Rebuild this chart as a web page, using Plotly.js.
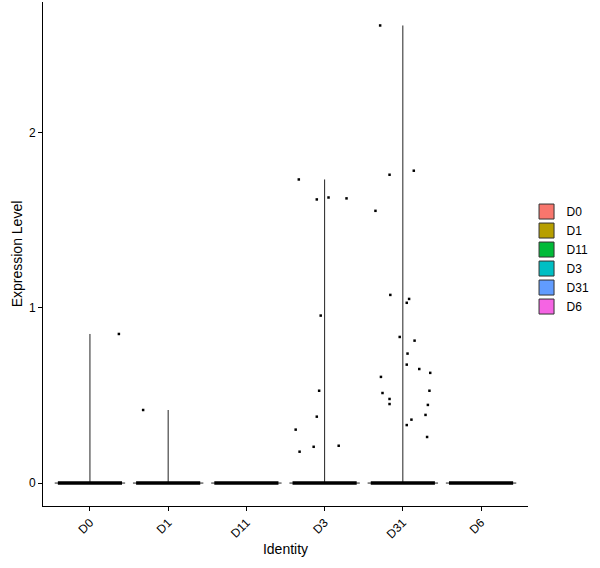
<!DOCTYPE html>
<html>
<head>
<meta charset="utf-8">
<script src="https://cdn.plot.ly/plotly-3.0.1.min.js"></script>
<style>
  html, body { margin: 0; padding: 0; background: #fff; }
  #chart { width: 600px; height: 568px; }
</style>
</head>
<body>
<div id="chart"></div>
<script>
// ===== Data =====
const groups = ['D0', 'D1', 'D11', 'D3', 'D31', 'D6'];
const groupColors = ['#F8766D', '#B79F00', '#00BA38', '#00BFC4', '#619CFF', '#F564E3'];

// non-zero cells per group: expression value and jitter offset
const valsD0 = [0.851];
const jitD0 = [0.37];
const valsD1 = [0.417];
const jitD1 = [-0.32];
const valsD11 = [];
const jitD11 = [];
const valsD3 = [1.733, 1.619, 1.630, 1.625, 0.956, 0.527, 0.379, 0.305, 0.207, 0.213, 0.179];
const jitD3 = [-0.33, -0.10, 0.05, 0.28, -0.05, -0.07, -0.10, -0.37, -0.14, 0.18, -0.32];
const valsD31 = [2.612, 1.760, 1.783, 1.554, 1.074, 1.051, 1.029, 0.834, 0.813, 0.739, 0.676, 0.651,
  0.629, 0.606, 0.514, 0.527, 0.480, 0.451, 0.446, 0.389, 0.362, 0.331, 0.263];
const jitD31 = [-0.29, -0.17, 0.14, -0.35, -0.16, 0.08, 0.05, -0.04, 0.15, 0.06, 0.05, 0.21,
  0.35, -0.28, -0.26, 0.34, -0.17, -0.17, 0.32, 0.29, 0.11, 0.05, 0.31];
const valsD6 = [];
const jitD6 = [];

const groupVals = [valsD0, valsD1, valsD11, valsD3, valsD31, valsD6];
const groupJit = [jitD0, jitD1, jitD11, jitD3, jitD31, jitD6];

// ===== Plot =====
const FONT = 'Liberation Sans, Arial, sans-serif';
const VIOLIN_HALF = 0.45;
const JITTER_HALF = 0.41;

const traces = [];

// violin outlines: collapsed to the zero line plus a thin tail up to the max
const vx = [], vy = [];
groups.forEach((g, i) => {
  const top = groupVals[i].length ? Math.max(...groupVals[i]) : 0;
  vx.push(i - VIOLIN_HALF, i + VIOLIN_HALF, null);
  vy.push(0, 0, null);
  if (top > 0) {
    vx.push(i, i, null);
    vy.push(0, top, null);
  }
});
traces.push({
  x: vx, y: vy, type: 'scatter', mode: 'lines',
  line: { color: '#222', width: 1 }, showlegend: false, hoverinfo: 'skip',
});

// the many zero-valued cells, jittered, form a solid band on the baseline
const zx = [], zy = [];
groups.forEach((g, i) => {
  zx.push(i - JITTER_HALF, i + JITTER_HALF, null);
  zy.push(0, 0, null);
});
traces.push({
  x: zx, y: zy, type: 'scatter', mode: 'lines',
  line: { color: '#000', width: 3.5 }, showlegend: false, hoverinfo: 'skip',
});

// jittered non-zero cells
const px = [], py = [];
groups.forEach((g, i) => {
  groupVals[i].forEach((v, k) => {
    px.push(i + groupJit[i][k]);
    py.push(v);
  });
});
traces.push({
  x: px, y: py, type: 'scatter', mode: 'markers',
  marker: { color: '#000', size: 2.5, symbol: 'square' }, showlegend: false,
});

// legend keys (fill colours of the violins)
groups.forEach((g, i) => {
  traces.push({
    x: [null], y: [null], type: 'scatter', mode: 'markers', name: g,
    marker: { color: groupColors[i], size: 15, symbol: 'square', line: { color: '#333', width: 1 } },
  });
});

const layout = {
  width: 600, height: 568,
  paper_bgcolor: '#fff', plot_bgcolor: '#fff',
  font: { family: FONT, size: 12, color: '#000' },
  margin: { l: 43, r: 72, t: 2, b: 62 },
  showlegend: true,
  legend: {
    x: 0.997, xanchor: 'left', y: 0.49, yanchor: 'middle',
    font: { size: 12, color: '#000' }, itemwidth: 30, tracegroupgap: 0,
  },
  xaxis: {
    range: [-0.6, groups.length - 0.4],
    tickvals: groups.map((g, i) => i), ticktext: groups,
    tickangle: -45, ticks: 'outside', ticklen: 4, tickcolor: '#000', tickwidth: 1,
    showline: true, linecolor: '#000', linewidth: 1,
    showgrid: false, zeroline: false,
    tickfont: { size: 12, color: '#000' },
    title: { text: 'Identity', font: { size: 14, color: '#000' }, standoff: 3 },
  },
  yaxis: {
    range: [-0.131, 2.746],
    tickvals: [0, 1, 2],
    ticks: 'outside', ticklen: 4, tickcolor: '#000', tickwidth: 1,
    showline: true, linecolor: '#000', linewidth: 1,
    showgrid: false, zeroline: false,
    tickfont: { size: 12, color: '#000' },
    title: { text: 'Expression Level', font: { size: 14, color: '#000' }, standoff: 3 },
  },
};

Plotly.newPlot('chart', traces, layout, { displayModeBar: false, responsive: false });
</script>
</body>
</html>
